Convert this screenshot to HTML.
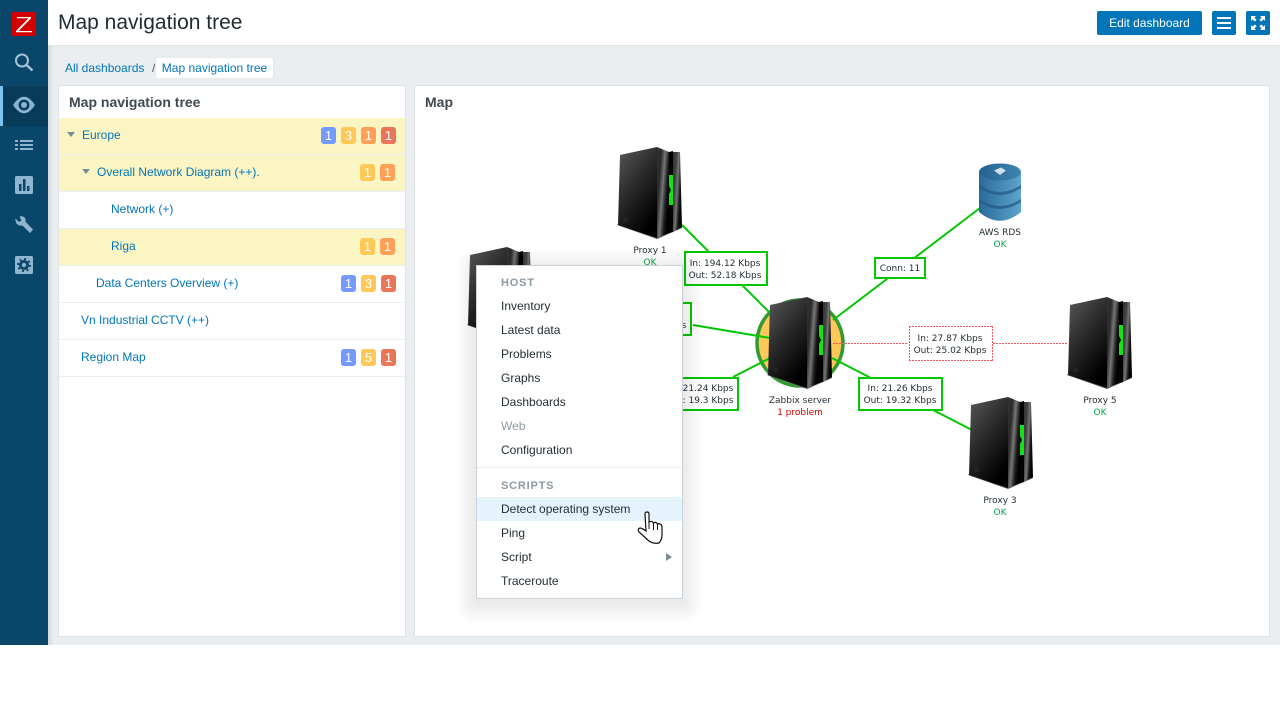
<!DOCTYPE html>
<html>
<head>
<meta charset="utf-8">
<title>Map navigation tree</title>
<style>
html,body{margin:0;padding:0;width:1280px;height:720px;overflow:hidden;background:#fff}
body{position:relative;font-family:"Liberation Sans",Arial,sans-serif;font-size:12px;color:#1f2c33}
.a{position:absolute}
#bg{left:0;top:0;width:1280px;height:645px;background:#ebeef0}
#hdr{left:48px;top:0;width:1232px;height:45px;background:#fff;border-bottom:1px solid #dfe4e7}
#side{left:0;top:0;width:48px;height:645px;background:#0a466a}
#sh{left:48px;top:45px;width:6px;height:600px;background:linear-gradient(90deg,#d5dadd,#ebeef0)}
#act{left:0;top:86px;width:48px;height:40px;background:#083a5a}
#act i{position:absolute;left:0;top:0;width:3px;height:40px;background:#7ec4f2}
h1{position:absolute;left:58px;top:10px;margin:0;font-weight:normal;font-size:21px;line-height:26px;color:#1f2c33}
.btn{background:#0275b8;border-radius:2px}
.lnk{color:#0275b8}
.panel{background:#fff;border:1px solid #dfe4e7;box-sizing:border-box}
.ph{font-weight:bold;font-size:14px;line-height:16px;color:#3d4a52}
.row{left:59px;width:346px;height:36px;border-bottom:1px solid #ebeef0;background:#fff}
.row.y{background:#fbf5c4}
.row span{position:absolute;top:10px;line-height:14px;color:#0275b8;white-space:nowrap}
.tri{width:0;height:0;border-left:4px solid transparent;border-right:4px solid transparent;border-top:5px solid #768d99}
.b{width:15px;height:17px;border-radius:3px;color:#fff;font-size:13px;line-height:17px;text-align:center}
.bl{background:#7499ff}.ye{background:#ffc859}.or{background:#ffa059}.re{background:#e97659}
#menu{left:476px;top:265px;width:207px;height:334px;box-sizing:border-box;background:#fff;border:1px solid #c9d3d9}
.s{background:rgba(70,100,115,.011)}
.dh{height:1px;background:repeating-linear-gradient(90deg,#f05a5a 0 2px,transparent 2px 3px)}
.dv{width:1px;background:repeating-linear-gradient(180deg,#f05a5a 0 2px,transparent 2px 3px)}
.m{left:501px;line-height:14px;color:#1f2c33;white-space:nowrap}
.mh{left:501px;line-height:14px;font-size:11px;font-weight:bold;letter-spacing:.8px;color:#8a9aa3}
</style>
</head>
<body>
<div class="a" id="bg"></div>
<div class="a" id="hdr"></div>
<div class="a" id="sh"></div>
<h1>Map navigation tree</h1>

<div class="a btn" style="left:1097px;top:11px;width:105px;height:24px;color:#fff;text-align:center;line-height:24px">Edit dashboard</div>
<div class="a btn" style="left:1212px;top:11px;width:24px;height:24px"></div>
<div class="a btn" style="left:1246px;top:11px;width:24px;height:24px"></div>
<svg class="a" style="left:1212px;top:11px" width="60" height="24">
<g fill="#fff"><rect x="5" y="6" width="14" height="2"/><rect x="5" y="11" width="14" height="2"/><rect x="5" y="16" width="14" height="2"/>
<path d="M39 5h5l-1.600 1.600 2.200 2.200-1.800 1.800-2.200-2.200L39 10zM53 5v5l-1.600-1.600-2.200 2.200-1.800-1.800 2.200-2.200L48 5zM39 19v-5l1.600 1.600 2.200-2.200 1.800 1.800-2.200 2.200L44 19zM53 19h-5l1.600-1.600-2.200-2.200 1.800-1.800 2.200 2.200L53 14z"/></g>
</svg>

<!-- Sidebar -->
<div class="a" id="side"></div>
<div class="a" id="act"><i></i></div>
<svg class="a" style="left:0;top:0" width="48" height="290">
<rect x="12" y="12" width="24" height="24" fill="#d40000"/>
<path d="M17 17H31V18.200L18.600 31H32V32.300H16V31L28.500 18.300H17Z" fill="#fff"/>
<circle cx="22" cy="60.500" r="6" fill="none" stroke="#a3c3d8" stroke-width="2"/>
<path d="M26.500 65 L32.500 70.500" stroke="#a3c3d8" stroke-width="2.400" fill="none"/>
<path d="M13 105 Q24 88.500 35 105 Q24 121.500 13 105Z" fill="#8ab4cf"/>
<circle cx="24" cy="105" r="5.400" fill="#083a5a"/><circle cx="24" cy="105" r="3" fill="#8ab4cf"/>
<g fill="#8fb5d0"><rect x="15" y="140" width="3" height="2"/><rect x="20" y="140" width="13" height="2"/><rect x="15" y="144" width="3" height="2"/><rect x="20" y="144" width="13" height="2"/><rect x="15" y="148" width="3" height="2"/><rect x="20" y="148" width="13" height="2"/></g>
<rect x="15" y="176" width="18" height="18" rx="1.500" fill="#8fb5d0"/>
<g fill="#0a466a"><rect x="19" y="184" width="2.500" height="7"/><rect x="23" y="179" width="2.500" height="12"/><rect x="27" y="186" width="2.500" height="5"/></g>
<path d="M15.500 218.500 L19 222 L21.500 220.500 L19.500 216.500 Q23 215.500 25 218 Q26 220 25.500 221.800 L33 229.500 L30 233 L22.500 225.500 Q19 226 17 224 Q15 222 15.500 218.500Z" fill="#8fb5d0"/>
<rect x="15" y="256" width="18" height="18" rx="1.500" fill="#8fb5d0"/>
<circle cx="24" cy="265" r="5" fill="#0a466a"/>
<circle cx="24" cy="265" r="6" fill="none" stroke="#0a466a" stroke-width="2" stroke-dasharray="2 2.700"/>
<circle cx="24" cy="265" r="2.200" fill="#8fb5d0"/>
</svg>

<!-- Breadcrumb -->
<div class="a lnk" style="left:65px;top:61px;line-height:14px">All dashboards</div>
<div class="a" style="left:152px;top:61px;line-height:14px;color:#4d5a62">/</div>
<div class="a lnk" style="left:155px;top:57px;width:119px;height:22px;background:#fff;border:1px solid #e6eaec;box-sizing:border-box;border-radius:2px;text-align:center;line-height:20px">Map navigation tree</div>

<!-- Left panel -->
<div class="a panel" style="left:58px;top:85px;width:348px;height:552px"></div>
<div class="a ph" style="left:69px;top:94px">Map navigation tree</div>
<div class="a row y" style="top:118px"><span style="left:23px">Europe</span></div>
<div class="a row y" style="top:155px"><span style="left:38px">Overall Network Diagram (++).</span></div>
<div class="a row" style="top:192px"><span style="left:52px">Network (+)</span></div>
<div class="a row y" style="top:229px"><span style="left:52px">Riga</span></div>
<div class="a row" style="top:266px"><span style="left:37px">Data Centers Overview (+)</span></div>
<div class="a row" style="top:303px"><span style="left:22px">Vn Industrial CCTV (++)</span></div>
<div class="a row" style="top:340px"><span style="left:22px">Region Map</span></div>
<div class="a tri" style="left:67px;top:132px"></div>
<div class="a tri" style="left:82px;top:169px"></div>

<div class="a b bl" style="left:321px;top:127px">1</div><div class="a b ye" style="left:341px;top:127px">3</div><div class="a b or" style="left:361px;top:127px">1</div><div class="a b re" style="left:381px;top:127px">1</div>
<div class="a b ye" style="left:360px;top:164px">1</div><div class="a b or" style="left:380px;top:164px">1</div>
<div class="a b ye" style="left:360px;top:238px">1</div><div class="a b or" style="left:380px;top:238px">1</div>
<div class="a b bl" style="left:341px;top:275px">1</div><div class="a b ye" style="left:361px;top:275px">3</div><div class="a b re" style="left:381px;top:275px">1</div>
<div class="a b bl" style="left:341px;top:349px">1</div><div class="a b ye" style="left:361px;top:349px">5</div><div class="a b re" style="left:381px;top:349px">1</div>

<!-- Right panel -->
<div class="a panel" style="left:414px;top:85px;width:856px;height:552px"></div>
<div class="a ph" style="left:425px;top:94px">Map</div>

<!-- Map -->
<svg class="a" style="left:0;top:0" width="1280" height="645" font-family="'DejaVu Sans',sans-serif" font-size="9" text-anchor="middle">
<defs>
<linearGradient id="fr" x1="0" y1="0" x2=".55" y2="1"><stop offset="0" stop-color="#5a5a5a"/><stop offset=".5" stop-color="#2a2a2a"/><stop offset="1" stop-color="#000"/></linearGradient>
<linearGradient id="sd" x1="0" y1="0" x2="1" y2=".55"><stop offset="0" stop-color="#333"/><stop offset=".3" stop-color="#2a2a2a"/><stop offset=".55" stop-color="#777"/><stop offset=".8" stop-color="#1c1c1c"/><stop offset="1" stop-color="#000"/></linearGradient>
<linearGradient id="rt" x1="0" y1="0" x2="1" y2=".5"><stop offset="0" stop-color="#333"/><stop offset=".35" stop-color="#444"/><stop offset=".55" stop-color="#777"/><stop offset=".8" stop-color="#1a1a1a"/><stop offset="1" stop-color="#000"/></linearGradient>
<linearGradient id="db" x1="0" y1="0" x2="1" y2="0"><stop offset="0" stop-color="#2a6a9a"/><stop offset="1" stop-color="#5ca5cb"/></linearGradient>
<linearGradient id="dt" x1="0" y1="0" x2="1" y2="0"><stop offset="0" stop-color="#24618f"/><stop offset="1" stop-color="#3f86b3"/></linearGradient>
<g id="srv">
<path d="M0 78 L40 92 L65 81 L64 77 L40 86 L2 76Z" fill="#555"/>
<path d="M3 8 L40 0 L40 91 L1 78Z" fill="url(#fr)"/>
<path d="M40 0 L52 5 L52 86 L40 91Z" fill="url(#sd)"/>
<path d="M52 5 L56 4 L56 85 L52 86Z" fill="#030303"/>
<path d="M56 5 L63 5 L65 80 L56 85Z" fill="url(#rt)"/>
<path d="M52 28 L56 28 L56 58 L52 58 L52 47 L54 43 L52 39Z" fill="#16e016"/>
<rect x="6" y="12" width="5" height="5" fill="#444"/>
<rect x="6" y="70" width="5" height="5" fill="#222"/>
</g>
</defs>

<circle cx="800" cy="343" r="43" fill="#ffc859" stroke="#339933" stroke-width="3.500"/>
<g stroke="#00c800" stroke-width="2" fill="none">
<path d="M682 225 L770 313"/>
<path d="M980 208 L833 320"/>
<path d="M693 325 L770 338"/>
<path d="M770 358 L733 377"/>
<path d="M832 358 L972 430"/>
</g>

<use href="#srv" x="617" y="147"/>
<use href="#srv" x="467" y="247"/>
<use href="#srv" x="767" y="297"/>
<use href="#srv" x="1067" y="297"/>
<use href="#srv" x="968" y="397"/>

<!-- DB -->
<path d="M979 172 V212 Q1000 229.500 1021 212 V172Z" fill="url(#db)"/>
<path d="M979 185 Q1000 199 1021 185 V188 Q1000 202 979 188Z" fill="#235c86" opacity=".75"/>
<path d="M979 199 Q1000 213 1021 199 V202 Q1000 216 979 202Z" fill="#235c86" opacity=".75"/>
<ellipse cx="1000" cy="172" rx="21" ry="8.500" fill="url(#dt)"/>
<path d="M994 170.500 L1001 167.500 L1006 170.500 L1000 175Z" fill="#cfe0ec"/>

<!-- Labels -->
<g fill="#fff" stroke="#00c800" stroke-width="2">
<rect x="685" y="252" width="82" height="33"/>
<rect x="640" y="303" width="51" height="32"/>
<rect x="640" y="378" width="98" height="32"/>
<rect x="859" y="378" width="83" height="32"/>
<rect x="875" y="258" width="50" height="20"/>
</g>

<g fill="#1f2c33">
<text x="725" y="266">In: 194.12 Kbps</text>
<text x="725" y="278">Out: 52.18 Kbps</text>
<text x="900" y="271">Conn: 11</text>
<text x="950" y="341">In: 27.87 Kbps</text>
<text x="950" y="353">Out: 25.02 Kbps</text>
<text x="900" y="391">In: 21.26 Kbps</text>
<text x="900" y="403">Out: 19.32 Kbps</text>
<text x="708" y="391">21.24 Kbps</text>
<text x="708" y="403">: 19.3 Kbps</text>
<text x="684" y="328">s</text>
<text x="650" y="253">Proxy 1</text>
<text x="1000" y="235">AWS RDS</text>
<text x="800" y="403">Zabbix server</text>
<text x="1100" y="403">Proxy 5</text>
<text x="1000" y="503">Proxy 3</text>
</g>
<g fill="#00a84a">
<text x="650" y="265">OK</text>
<text x="1000" y="247">OK</text>
<text x="1100" y="415">OK</text>
<text x="1000" y="515">OK</text>
</g>
<text x="800" y="415" fill="#d40000">1 problem</text>
</svg>

<!-- Dotted link and label border -->
<div class="a dh" style="left:833px;top:343px;width:75px"></div>
<div class="a dh" style="left:993px;top:343px;width:75px"></div>
<div class="a dh" style="left:909px;top:326px;width:84px"></div>
<div class="a dh" style="left:909px;top:360px;width:84px"></div>
<div class="a dv" style="left:909px;top:326px;height:35px"></div>
<div class="a dv" style="left:992px;top:326px;height:35px"></div>

<!-- Menu shadow layers -->
<div class="a s" style="left:456px;top:249px;width:247px;height:374px;border-radius:20px"></div>
<div class="a s" style="left:458px;top:251px;width:243px;height:370px;border-radius:18px"></div>
<div class="a s" style="left:460px;top:253px;width:239px;height:366px;border-radius:16px"></div>
<div class="a s" style="left:462px;top:255px;width:235px;height:362px;border-radius:14px"></div>
<div class="a s" style="left:464px;top:257px;width:231px;height:358px;border-radius:12px"></div>
<div class="a s" style="left:466px;top:259px;width:227px;height:354px;border-radius:10px"></div>
<div class="a s" style="left:468px;top:261px;width:223px;height:350px;border-radius:8px"></div>
<div class="a s" style="left:470px;top:263px;width:219px;height:346px;border-radius:6px"></div>
<div class="a s" style="left:472px;top:265px;width:215px;height:342px;border-radius:4px"></div>
<div class="a s" style="left:474px;top:267px;width:211px;height:338px;border-radius:2px"></div>

<!-- Context menu -->
<div class="a" id="menu"></div>
<div class="a mh" style="top:276px">HOST</div>
<div class="a m" style="top:299px">Inventory</div>
<div class="a m" style="top:323px">Latest data</div>
<div class="a m" style="top:347px">Problems</div>
<div class="a m" style="top:371px">Graphs</div>
<div class="a m" style="top:395px">Dashboards</div>
<div class="a m" style="top:419px;color:#8a9aa3">Web</div>
<div class="a m" style="top:443px">Configuration</div>
<div class="a" style="left:477px;top:467px;width:205px;height:1px;background:#e6eaec"></div>
<div class="a mh" style="top:479px">SCRIPTS</div>
<div class="a" style="left:477px;top:497px;width:205px;height:24px;background:#e5f3fd"></div>
<div class="a m" style="top:502px">Detect operating system</div>
<div class="a m" style="top:526px">Ping</div>
<div class="a m" style="top:550px">Script</div>
<div class="a m" style="top:574px">Traceroute</div>
<div class="a" style="left:666px;top:553px;width:0;height:0;border-top:4px solid transparent;border-bottom:4px solid transparent;border-left:6px solid #768d99"></div>

<svg class="a" style="left:636px;top:510px" width="30" height="36">
<path d="M9 4 Q9 2 11 2 Q13 2 13 4 V12 Q16 10.500 17.500 13 Q20 11.500 21.500 14 Q25 13 26 16.500 V26 Q25.500 30 23 33 Q17 34 13 31 L3 22 Q1 19 4 18 Q6 18 10 21Z" fill="#fff" stroke="#111" stroke-width="1.200"/>
<path d="M13 12V19M17.500 13V20M21.500 14V20" stroke="#111" stroke-width="1" fill="none"/>
</svg>
</body>
</html>
